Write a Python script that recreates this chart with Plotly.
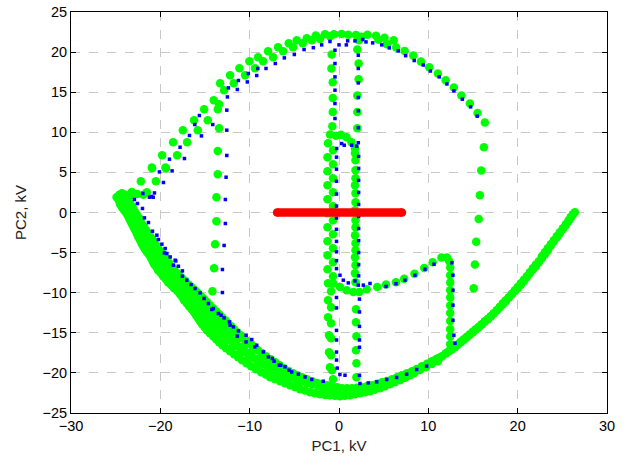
import plotly.graph_objects as go

# ---------------- GREEN trajectory (kV) ----------------
# upper-left outer arc (two interleaved tracks)
g_arc_x = [-24.6, -23.9, -23.2, -22.6, -21.9, -24.9, -24.3, -23.19, -22.18, -21.51, -20.95, -20.92, -20.50, -19.80,
           -19.43, -19.38, -18.57, -18.12, -17.48, -17.00, -16.22, -15.81, -15.10, -14.69, -14.02,
           -13.31, -12.86, -12.19, -11.78, -11.15, -10.51, -10.03, -9.40, -9.06, -8.50, -7.94,
           -7.38, -6.82, -6.26, -5.63, -5.15, -4.73, -4.06, -3.61, -3.05]
g_arc_y = [2.2, 2.2, 2.2, 2.3, 2.2, 1.9, 2.4, 2.57, 3.90, 2.53, 5.61, 5.52, 3.90, 7.14,
           5.61, 5.52, 8.77, 7.14, 10.26, 8.77, 11.51, 10.26, 12.88, 11.51, 13.99,
           16.12, 15.24, 17.11, 16.12, 18.00, 17.11, 18.86, 18.00, 19.36, 18.86, 20.11,
           19.36, 20.61, 20.11, 21.11, 20.61, 21.48, 21.11, 21.73, 21.48]

# left vertical drop at about -13.7 kV
g_lv_x = [-13.42, -13.57, -13.42, -13.57, -13.57, -13.72, -13.72, -13.87, -13.98, -14.17]
g_lv_y = [13.50, 12.88, 10.51, 7.68, 4.78, 1.91, -1.08, -3.95, -6.95, -9.81]

# top arc and right descent
g_top_x = [-2.60, -2.13, -1.57, -1.01, -0.56, 0.30, 1.04, 1.90, 2.24, 2.54, 3.19, 4.14, 4.42, 5.09,
           5.37, 6.12, 6.40, 7.35, 8.31, 9.17, 10.10, 11.07, 11.94, 12.86, 13.70, 14.65, 15.51, 16.33,
           16.22, 15.92, 15.77, 15.64, 15.36, 15.21, 15.08]
g_top_y = [22.07, 21.65, 22.23, 21.98, 22.23, 22.27, 22.17, 22.14, 21.48, 21.90, 22.17, 22.04, 21.55, 21.80,
           20.99, 21.48, 20.57, 20.15, 19.59, 18.83, 18.12, 17.34, 16.50, 15.60, 14.59, 13.59, 12.41, 11.22,
           8.14, 5.24, 2.16, -0.80, -3.64, -6.48, -9.44]

# two short verticals under the top arc
g_tv_x = [-0.82, -0.85, -0.70, -0.70, -0.70, -0.75, 2.05, 2.20, 2.20, 2.05, 2.05, 2.05]
g_tv_y = [19.71, 17.96, 16.25, 14.29, 12.54, 10.76, 20.32, 18.58, 16.62, 14.59, 12.54, 10.51]

# central loop: top, left column, right column, bottom, branch
g_loop_x = [-1.01, -0.34, 0.22, 0.84, 1.40, 1.79]
g_loop_y = [9.73, 9.58, 9.70, 9.39, 8.77, 8.02]

g_lc_x = [-1.23, -0.67, -1.29, -0.67, -1.29, -0.67, -1.29, -0.67, -1.29, -0.67, -1.29, -0.67, -1.29,
          -0.67, -1.29, -0.67, -1.29, -0.67, -1.29, -0.67, -1.23, -0.89, -1.23, -0.89, -1.23, -0.89,
          -1.12, -0.89, -1.12, -0.89, -1.01, -0.78, -0.67]
g_lc_y = [8.64, 7.77, 6.89, 6.02, 5.15, 4.28, 3.40, 2.53, 1.66, 0.79, -0.09, -0.96, -1.83,
          -2.71, -3.58, -4.45, -5.32, -6.20, -7.07, -7.94, -8.81, -9.81, -10.93, -11.81, -13.06, -13.81,
          -15.30, -15.67, -17.42, -17.79, -19.29, -19.66, -20.78]

g_rc_x = [1.79, 1.85, 1.85, 1.85, 1.79, 1.85, 1.85, 1.79, 1.85, 1.85, 1.79, 1.85, 1.85, 1.79, 1.85,
          1.79, 1.85, 1.90, 1.90, 1.95, 1.90, 1.95, 1.95]
g_rc_y = [7.39, 6.52, 5.27, 4.28, 3.40, 2.41, 1.28, 0.29, -0.96, -1.83, -2.83, -3.82, -4.70, -5.57, -6.57,
          -7.57, -8.69, -12.06, -13.68, -15.42, -17.17, -18.79, -20.54]

g_br_x = [-0.64, 0.11, 0.86, 1.60, 2.27, 3.10, 4.28, 5.26, 6.38, 7.30, 8.45, 9.54, 10.48, 11.47, 12.08,
          12.34, 12.45, 12.45, 12.45, 12.45, 12.45, 12.45, 12.45, 12.45, 12.45, 12.45, 12.45]
g_br_y = [-8.85, -9.28, -9.69, -9.90, -9.90, -9.56, -9.28, -8.98, -8.69, -8.25, -7.63, -6.91, -6.20, -5.61, -5.61,
          -6.07, -6.86, -7.82, -8.73, -9.69, -10.60, -11.60, -12.52, -13.52, -14.55, -15.46, -16.42]

# lower big arc: outer pass
g_lo_x = [-24.72, -24.50, -24.05, -23.60, -23.27, -22.93, -22.60, -22.26, -21.92, -21.48, -21.03, -20.69,
          -20.25, -19.69, -19.13, -18.46, -17.79, -17.34, -16.78, -16.22, -15.77, -15.32, -14.77, -14.09,
          -13.42, -12.64, -11.74, -10.85, -9.84, -8.72, -7.72, -6.60, -5.48, -4.36, -3.24, -2.13, -1.01,
          0.11, 1.23, 2.35, 3.47, 4.59, 5.70, 6.82, 7.94, 9.06, 10.18, 11.30, 11.97, 12.64, 13.31, 13.98,
          14.65, 15.32, 15.99, 16.67, 17.34, 18.01, 18.68, 19.35, 20.02, 20.69, 21.36, 22.04, 22.71, 23.38,
          24.05, 24.72, 25.39, 25.95, 26.40]
g_lo_y = [1.78, 1.04, 0.29, -0.46, -1.21, -1.96, -2.71, -3.45, -4.20, -4.95, -5.70, -6.45,
          -7.19, -7.94, -8.69, -9.44, -10.19, -10.93, -11.68, -12.43, -13.18, -13.93, -14.67, -15.42,
          -16.17, -16.92, -17.67, -18.42, -19.16, -19.91, -20.54, -21.04, -21.54, -22.03, -22.41, -22.66, -22.78,
          -22.91, -22.78, -22.53, -22.28, -21.91, -21.41, -20.91, -20.29, -19.54, -18.79, -18.04, -17.54, -17.04,
          -16.42, -15.80, -15.17, -14.55, -13.93, -13.30, -12.56, -11.81, -11.06, -10.19, -9.44, -8.57, -7.57,
          -6.70, -5.70, -4.70, -3.58, -2.58, -1.58, -0.59, 0.04]
g_lo2_x = [-24.6, -24.3, -23.8, -23.45, -23.1, -22.75, -22.45, -22.1, -21.7, -21.25, -20.85, -20.45, -19.95,
           -19.4, -18.8, -18.1, -17.55, -17.05, -16.5, -16.0, -15.55, -15.05, -14.45, -13.75, -13.05, -12.2,
           -11.3, -10.35, -9.3, -8.2, -7.15, -6.05, -4.9, -3.8, -2.7, -1.55, -0.45, 0.65, 1.8, 2.9, 4.0,
           5.15, 6.25, 7.4, 8.5, 9.6, 10.75, 12.3, 12.97, 13.65, 14.3, 15.0, 15.65, 16.33, 17.0, 17.67,
           18.35, 19.0, 19.7, 20.35, 21.03, 21.7, 22.37, 23.05, 23.7, 24.4, 25.05, 25.67, 26.17]
g_lo2_y = [1.4, 0.65, -0.1, -0.85, -1.6, -2.35, -3.1, -3.85, -4.6, -5.3, -6.1, -6.8, -7.55,
           -8.3, -9.05, -9.8, -10.55, -11.3, -12.05, -12.8, -13.55, -14.3, -15.05, -15.8, -16.55, -17.3,
           -18.05, -18.8, -19.55, -20.2, -20.8, -21.3, -21.8, -22.2, -22.55, -22.75, -22.85, -22.85, -22.65,
           -22.4, -22.1, -21.65, -21.15, -20.6, -19.9, -19.15, -18.4, -17.3, -16.73, -16.1, -15.5, -14.85,
           -14.25, -13.6, -12.95, -12.2, -11.45, -10.6, -9.8, -9.0, -8.07, -7.13, -6.2, -5.2, -4.15, -3.08,
           -2.08, -1.08, -0.28]

# lower big arc: inner pass
g_li_x = [-23.60, -23.15, -22.82, -22.37, -22.04, -21.59, -21.14, -20.69, -20.25, -19.69, -19.24, -18.79,
          -18.23, -17.56, -16.89, -16.11, -15.44, -14.77, -14.09, -13.42, -12.75, -12.08, -11.41, -10.63,
          -9.84, -9.06, -8.17, -7.16, -6.15, -5.15, -4.14, -3.02, -1.90, -0.78, 0.34, 1.45, 2.57, 3.69,
          4.81, 5.93, 7.05, 8.17, 9.28, 10.40, 11.52, 12.42, 12.98, 13.65, 14.32, 14.99, 15.66, 16.33,
          17.00, 17.67, 18.34, 19.02, 19.69, 20.36, 21.03, 21.70, 22.37, 23.04, 23.71, 24.38, 25.06,
          25.73, 26.17]
g_li_y = [1.53, 0.79, 0.04, -0.71, -1.46, -2.21, -2.95, -3.70, -4.45, -5.20, -5.95, -6.70,
          -7.44, -8.19, -8.94, -9.69, -10.44, -11.18, -11.93, -12.68, -13.43, -14.18, -14.92, -15.67,
          -16.42, -17.17, -17.92, -18.67, -19.41, -20.04, -20.54, -21.04, -21.41, -21.66, -21.91, -21.91,
          -21.79, -21.54, -21.16, -20.79, -20.29, -19.79, -19.17, -18.54, -17.92, -17.17, -16.80, -16.17,
          -15.55, -14.92, -14.30, -13.55, -12.93, -12.18, -11.31, -10.56, -9.69, -8.81, -7.94, -6.95,
          -6.07, -4.95, -3.95, -2.95, -1.96, -0.96, -0.21]
g_li2_x = [-23.4, -23.0, -22.6, -22.2, -21.8, -21.35, -20.9, -20.45, -19.95, -19.45, -19.0, -18.5, -17.9,
           -17.2, -16.5, -15.8, -15.1, -14.45, -13.75, -13.1, -12.4, -11.75, -11.0, -10.25, -9.45, -8.6,
           -7.65, -6.65, -5.65, -4.65, -3.6, -2.45, -1.35, -0.2, 0.9, 2.0, 3.15, 4.25, 5.35, 6.5, 7.6,
           8.7, 9.85, 10.95, 12.0, 13.3, 14.0, 14.65, 15.32, 16.0, 16.67, 17.33, 18.0, 18.68, 19.35, 20.02,
           20.7, 21.37, 22.03, 22.7, 23.37, 24.05, 24.72, 25.4, 25.95]
g_li2_y = [1.15, 0.4, -0.35, -1.1, -1.85, -2.6, -3.3, -4.1, -4.85, -5.6, -6.3, -7.05, -7.8,
           -8.55, -9.3, -10.05, -10.8, -11.55, -12.3, -13.05, -13.8, -14.55, -15.3, -16.05, -16.8, -17.55,
           -18.3, -19.05, -19.75, -20.3, -20.8, -21.25, -21.55, -21.8, -21.9, -21.85, -21.65, -21.35, -21.0,
           -20.55, -20.05, -19.5, -18.85, -18.25, -17.55, -16.5, -15.85, -15.25, -14.6, -13.93, -13.25,
           -12.55, -11.75, -10.95, -10.12, -9.25, -8.37, -7.45, -6.5, -5.5, -4.45, -3.45, -2.45, -1.45, -0.6]

# lower big arc: middle passes
g_lm_x = [-24.16, -23.83, -23.44, -22.99, -22.66, -22.26, -21.87, -21.48, -21.09, -20.59,
          -20.47, -20.02, -19.46, -18.90, -18.34, -17.79, -17.00, -16.44, -15.88, -15.21, -14.65, -13.98,
          -13.42, -12.75, -12.08, -11.30, -10.40, -9.51, -8.50, -7.27, -6.04, -4.81, -3.58, -2.35, -1.01,
          0.34, 1.68, 3.02, 4.36, 5.70, 7.05, 8.39, 9.73, 11.07]
g_lm_y = [1.66, 0.92, 0.17, -0.59, -1.34, -2.09, -2.83, -3.58, -4.33, -5.08,
          -5.45, -6.20, -6.95, -7.69, -8.44, -9.19, -9.94, -10.68, -11.43, -12.18, -12.93, -13.68,
          -14.42, -15.17, -15.92, -16.67, -17.42, -18.17, -18.92, -19.66, -20.29, -20.79, -21.29, -21.66,
          -22.16, -22.41, -22.28, -22.03, -21.66, -21.16, -20.66, -20.04, -19.29, -18.54]
g_lm2_x = [-20.7, -20.25, -19.75, -19.2, -18.6, -18.05, -17.4, -16.7, -16.15, -15.55, -14.95, -14.3, -13.7,
           -13.1, -12.4, -11.7, -10.85, -9.95, -9.0, -7.9, -6.65, -5.4, -4.2, -2.95, -1.7, -0.35, 1.0,
           2.35, 3.7, 5.05, 6.4, 7.7, 9.05, 10.4]
g_lm2_y = [-5.1, -5.8, -6.6, -7.3, -8.05, -8.8, -9.55, -10.3, -11.05, -11.8, -12.55, -13.3, -14.05,
           -14.8, -15.55, -16.3, -17.05, -17.8, -18.55, -19.3, -19.95, -20.55, -21.05, -21.45, -21.9, -22.3,
           -22.35, -22.15, -21.85, -21.4, -20.9, -20.35, -19.65, -18.9]
g_q1_x = [-20.75, -20.36, -19.86, -19.30, -18.74, -18.13, -17.40, -16.89, -16.33, -15.72, -15.21, -14.65,
          -14.10, -13.42, -12.75, -11.97, -11.07, -10.18, -9.17, -8.00, -6.88, -5.70, -4.53]
g_q1_y = [-5.58, -6.33, -7.07, -7.82, -8.57, -9.32, -10.07, -10.81, -11.56, -12.31, -13.06, -13.81,
          -14.55, -15.30, -16.05, -16.80, -17.55, -18.30, -19.04, -19.79, -20.42, -20.92, -21.42]
g_q2_x = [-20.08, -19.63, -19.13, -18.57, -17.95, -17.34, -16.56, -15.94, -15.33, -14.65, -14.04, -13.37,
          -12.75, -12.08, -11.36, -10.57, -9.73, -8.84, -7.84, -6.71, -5.60, -4.48, -3.30]
g_q2_y = [-5.33, -6.08, -6.83, -7.57, -8.32, -9.07, -9.82, -10.56, -11.31, -12.06, -12.81, -13.56,
          -14.30, -15.05, -15.80, -16.55, -17.30, -18.05, -18.80, -19.54, -20.17, -20.67, -21.17]

# ---------------- BLUE trajectory (kV) ----------------
b_arc_x = [-21.96, -21.22, -20.66, -20.10, -19.65, -18.98, -18.68, -17.79, -17.30, -16.74, -16.14, -15.63,
           -15.40, -14.13, -12.49, -12.38, -11.38, -11.26, -10.26, -10.15, -9.21, -9.09, -8.17, -7.13,
           -6.12, -5.00, -3.91, -2.87, -1.94, -1.01, 0.00, 0.82, 0.97, 1.79, 2.65, 3.02, 3.77, 4.78,
           5.63, 6.63, 7.46, 8.42, 9.43, 10.23, 11.22, 12.08, 12.86, 13.81, 14.73, 15.47]
b_arc_y = [2.37, 1.91, 2.44, 5.06, 3.74, 6.65, 5.19, 8.14, 6.73, 9.60, 10.97, 12.09,
           9.55, 10.97, 14.41, 15.54, 15.34, 16.46, 16.28, 17.33, 17.08, 17.96, 17.96, 18.58,
           19.28, 19.70, 20.32, 20.55, 20.90, 21.32, 20.90, 20.90, 21.40, 21.40, 21.57, 21.27, 21.15, 20.90,
           20.52, 20.15, 19.55, 18.95, 18.39, 17.64, 16.91, 16.03, 15.16, 14.13, 13.17, 12.01]

b_lv_x = [-12.56, -12.56, -12.56, -12.64, -12.72, -12.72, -12.86, -13.05, -13.05]
b_lv_y = [12.76, 10.26, 7.11, 4.40, 1.62, -1.37, -4.11, -7.11, -9.98]

b_tv_x = [-0.45, -0.45, -0.45, -0.45, -0.45, -0.45, 2.16, 2.16, 2.16, 2.16, 2.16, 2.16, 2.16]
b_tv_y = [20.24, 18.58, 16.91, 15.25, 13.59, 11.72, 19.61, 17.96, 16.16, 14.34, 12.68, 10.56, 8.70]

b_c_x = [-0.26, 0.30, 0.59, 1.42, 1.98, -0.28, -0.28, -0.28, -0.28, -0.28, -0.28, -0.28, -0.28, -0.28,
         -0.28, -0.28, 2.20, 2.20, 2.20, 2.20, 2.20, 2.20, 2.20, 2.20, 2.20, 2.20, 2.20,
         0.11, 0.48, 1.04, 1.79, 2.16, 2.72, 3.47, 5.26, 6.38, 7.38, 8.50, 9.62, 10.63,
         12.64, 12.75, 12.75, 12.75, 12.75, 12.86, 12.98]
b_c_y = [7.98, 8.60, 8.39, 8.39, 8.27, 6.90, 5.40, 3.90, 2.30, 0.80, -0.70, -2.10, -3.60, -4.90,
         -6.00, -7.00, 7.00, 5.50, 4.00, 2.50, 1.00, -0.50, -2.00, -3.50, -5.00, -6.50, -7.90,
         -7.82, -8.44, -8.78, -8.53, -9.06, -9.06, -8.85, -9.22, -8.88, -8.44, -7.82, -7.07, -6.45,
         -6.27, -7.82, -9.69, -11.56, -13.43, -15.30, -16.30]

b_lc_x = [-0.28, -0.28, -0.28, -0.28, -0.28, -0.28, -0.20, 0.10, 2.29, 2.29, 2.29, 2.29, 2.29, 2.29]
b_lc_y = [-10.6, -11.9, -14.7, -15.9, -17.4, -18.4, -19.4, -20.2, -10.8, -12.4, -14.2, -15.9, -16.8, -20.3]

b_low_x = [-22.90, -22.56, -22.00, -21.78, -21.33, -20.88, -20.39, -20.21, -19.83, -19.46, -19.27, -18.90,
           -18.34, -17.98, -17.53, -17.04, -16.55, -16.11, -15.55, -15.10, -14.62, -14.06, -13.50, -12.86,
           -12.27, -11.82, -11.26, -10.40, -9.77, -9.21, -8.47, -7.91, -7.27, -6.68, -6.04, -5.29, -4.55,
           -3.80, -3.05, -1.76, 0.67, 2.35, 3.28, 4.22, 5.34, 6.45, 7.57, 8.69, 9.81,
           -19.54, -18.53, -18.27, -17.53, -14.24, -13.20, -12.19, -11.38, -10.40, -9.43, -7.46, -6.52, -5.59,
           -21.0, -20.8]
b_low_y = [1.62, 1.12, 0.50, -0.67, -1.25, -2.33, -2.83, -3.37, -3.95, -4.49, -5.11, -5.54,
           -5.95, -6.70, -7.28, -8.44, -8.98, -9.48, -10.02, -10.72, -11.35, -11.97, -12.59, -13.14,
           -13.64, -14.26, -14.76, -15.30, -15.84, -16.55, -17.38, -18.00, -18.54, -19.04, -19.25, -19.88, -20.16,
           -20.50, -20.82, -21.04, -20.29, -21.32, -21.25, -21.12, -20.82, -20.57, -20.16, -19.58, -19.16,
           -5.04, -6.57, -6.04, -7.94, -12.09, -12.81, -14.05, -15.42, -16.13, -16.76, -18.20, -19.04, -19.66,
           2.0, 1.9]

# ---------------- RED segment (kV) ----------------
r_x = [-6.93, 7.05]
r_y = [0.0, 0.0]

green_x = (g_arc_x + g_lv_x + g_top_x + g_tv_x + g_loop_x + g_lc_x + g_rc_x + g_br_x
           + g_lo_x + g_lo2_x + g_li_x + g_li2_x + g_lm_x + g_lm2_x + g_q1_x + g_q2_x)
green_y = (g_arc_y + g_lv_y + g_top_y + g_tv_y + g_loop_y + g_lc_y + g_rc_y + g_br_y
           + g_lo_y + g_lo2_y + g_li_y + g_li2_y + g_lm_y + g_lm2_y + g_q1_y + g_q2_y)
blue_x = b_arc_x + b_lv_x + b_tv_x + b_c_x + b_lc_x + b_low_x
blue_y = b_arc_y + b_lv_y + b_tv_y + b_c_y + b_lc_y + b_low_y

FONT = "Liberation Sans, Arial, sans-serif"

fig = go.Figure()
fig.add_trace(go.Scatter(x=green_x, y=green_y, mode="markers",
                         marker=dict(symbol="circle", size=8.5, color="#00ff00", line=dict(width=0)),
                         showlegend=False, hoverinfo="skip"))
fig.add_trace(go.Scatter(x=blue_x, y=blue_y, mode="markers",
                         marker=dict(symbol="square", size=3.5, color="#0000ff", line=dict(width=0)),
                         showlegend=False, hoverinfo="skip"))
fig.add_trace(go.Scatter(x=r_x, y=r_y, mode="lines+markers",
                         line=dict(color="#ff0000", width=8.5),
                         marker=dict(symbol="circle", size=8.5, color="#ff0000", line=dict(width=0)),
                         showlegend=False, hoverinfo="skip"))

axis_common = dict(showline=True, linecolor="black", linewidth=1, mirror="ticks",
                   ticks="inside", ticklen=5, tickcolor="black", tickwidth=1,
                   showgrid=True, gridcolor="#c8c8c8", griddash="dash", gridwidth=1,
                   zeroline=False, automargin=False,
                   tickfont=dict(size=14.5, color="black", family=FONT))

fig.update_xaxes(range=[-30, 30], dtick=10, tick0=-30,
                 title=dict(text="PC1, kV", standoff=7, font=dict(size=15, color="#222", family=FONT)),
                 **axis_common)
fig.update_yaxes(range=[-25, 25], dtick=5, tick0=-25,
                 title=dict(text="PC2, kV", standoff=12, font=dict(size=15, color="#222", family=FONT)),
                 **axis_common)

fig.update_layout(width=627, height=456, margin=dict(l=71, r=20, t=12, b=43),
                  plot_bgcolor="white", paper_bgcolor="white")

fig.write_html("out.html", config={"displayModeBar": False},
               post_script="document.body.style.margin='0px';")
